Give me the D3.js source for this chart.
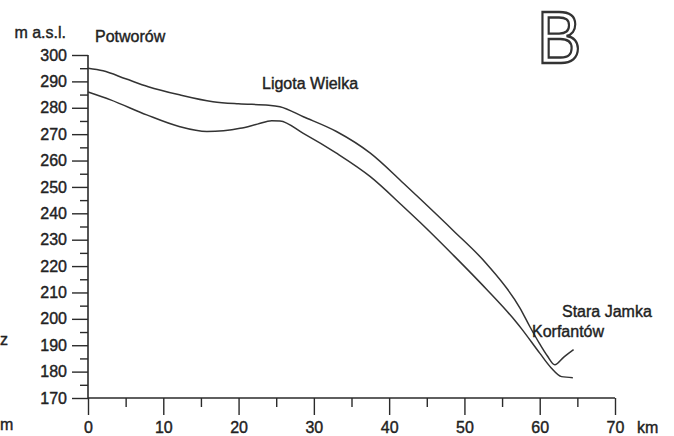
<!DOCTYPE html>
<html>
<head>
<meta charset="utf-8">
<script src="https://cdn.jsdelivr.net/npm/d3@7"></script>
<style>
  html, body { margin: 0; padding: 0; background: #ffffff; }
  svg text { font-family: "Liberation Sans", Arial, sans-serif; fill: #222; }
</style>
</head>
<body>
<svg id="chart" width="674" height="436"></svg>
<script>
// ---- data (km, m a.s.l.) ----
const upperKm   = [0, 2, 5, 8, 12, 16.6, 20, 24, 25.5, 28.6, 33, 37.5, 41.9, 44.1, 48.5, 52.9, 57.4, 58.7, 60, 61, 62, 63.2, 64.5];
const upperElev = [295, 294, 291, 288, 285, 282.3, 281.5, 281, 280.4, 276.6, 271, 262.8, 251.4, 245.5, 233.5, 221, 204, 197, 190.5, 186, 182.6, 185.5, 188.3];
const lowerKm   = [0, 3, 7.8, 12, 15.8, 18, 20.2, 22.5, 24.4, 25.5, 28.6, 33, 37.5, 41.9, 44.1, 48.5, 52.9, 56.9, 57.6, 60, 61.5, 62.9, 64.4];
const lowerElev = [286, 283, 277.3, 273, 271, 271.3, 272.2, 273.8, 275.1, 275, 270.3, 262.8, 253.9, 242.5, 236.6, 224.2, 211.3, 198.7, 196.2, 187, 181.5, 178.1, 177.7];
const yMajorTicks = [170, 180, 190, 200, 210, 220, 230, 240, 250, 260, 270, 280, 290, 300];
const yMinorTicks = [175, 185, 195, 205, 215, 225, 235, 245, 255, 265, 275, 285, 295];
const xMajorTicks = [0, 10, 20, 30, 40, 50, 60, 70];
const xMinorTicks = [5, 15, 25, 35, 45, 55, 65];
const placeNames = ["Potworów", "Ligota Wielka", "Stara Jamka", "Korfantów"];

const svg = d3.select("#chart");
const x = d3.scaleLinear().domain([0, 70]).range([88, 615]);
const y = d3.scaleLinear().domain([170, 300]).range([398, 55]);
const ink = "#2a2a2a";

// axis lines
svg.append("line").attr("x1", x(0)).attr("x2", x(0)).attr("y1", y(300)).attr("y2", y(170))
  .attr("stroke", ink).attr("stroke-width", 1.6);
svg.append("line").attr("x1", x(0)).attr("x2", x(70)).attr("y1", y(170)).attr("y2", y(170))
  .attr("stroke", ink).attr("stroke-width", 1.6);

// y axis
const yMaj = svg.append("g").attr("transform", `translate(${x(0)},0)`)
  .call(d3.axisLeft(y).tickValues(yMajorTicks).tickSize(16).tickPadding(5).tickFormat(d3.format("d")));
const yMin = svg.append("g").attr("transform", `translate(${x(0)},0)`)
  .call(d3.axisLeft(y).tickValues(yMinorTicks).tickSize(8).tickFormat(""));
// x axis
const xMaj = svg.append("g").attr("transform", `translate(0,${y(170)})`)
  .call(d3.axisBottom(x).tickValues(xMajorTicks).tickSize(17).tickPadding(7).tickFormat(d3.format("d")));
const xMin = svg.append("g").attr("transform", `translate(0,${y(170)})`)
  .call(d3.axisBottom(x).tickValues(xMinorTicks).tickSize(9).tickFormat(""));

[yMaj, yMin, xMaj, xMin].forEach(g => {
  g.select(".domain").remove();
  g.selectAll(".tick line").attr("stroke", ink).attr("stroke-width", 1.4);
  g.selectAll(".tick text").attr("font-size", 16).attr("font-family", "Liberation Sans, Arial, sans-serif")
    .attr("fill", "#222").attr("stroke", "#222").attr("stroke-width", 0.4);
});

// profile lines
const line = d3.line().x(d => x(d[0])).y(d => y(d[1])).curve(d3.curveMonotoneX);
const upper = upperKm.map((k, i) => [k, upperElev[i]]);
const lower = lowerKm.map((k, i) => [k, lowerElev[i]]);
[upper, lower].forEach(data => {
  svg.append("path").datum(data).attr("d", line)
    .attr("fill", "none").attr("stroke", "#333").attr("stroke-width", 1.5);
});

// texts
const t = (txt, px, py, size, anchor) => svg.append("text").attr("x", px).attr("y", py)
  .attr("font-size", size).attr("text-anchor", anchor || "start")
  .attr("stroke", "#222").attr("stroke-width", 0.4).text(txt);
t("m a.s.l.", 66, 38, 16, "end");
t(placeNames[0], 95, 42, 16);
t(placeNames[1], 262, 89, 16);
t(placeNames[2], 562, 317, 16);
t(placeNames[3], 532, 337, 16);
t("km", 637, 433, 16);
t("z", 0, 345, 16);
t("m", 0, 430, 16);

// big panel letter
svg.append("text").attr("transform", "translate(537,63) scale(0.9,1)")
  .attr("font-size", 74).attr("font-family", "Liberation Sans, Arial, sans-serif")
  .style("fill", "#ffffff").attr("stroke", "#333").attr("stroke-width", 2.4)
  .text("B");
</script>
</body>
</html>
